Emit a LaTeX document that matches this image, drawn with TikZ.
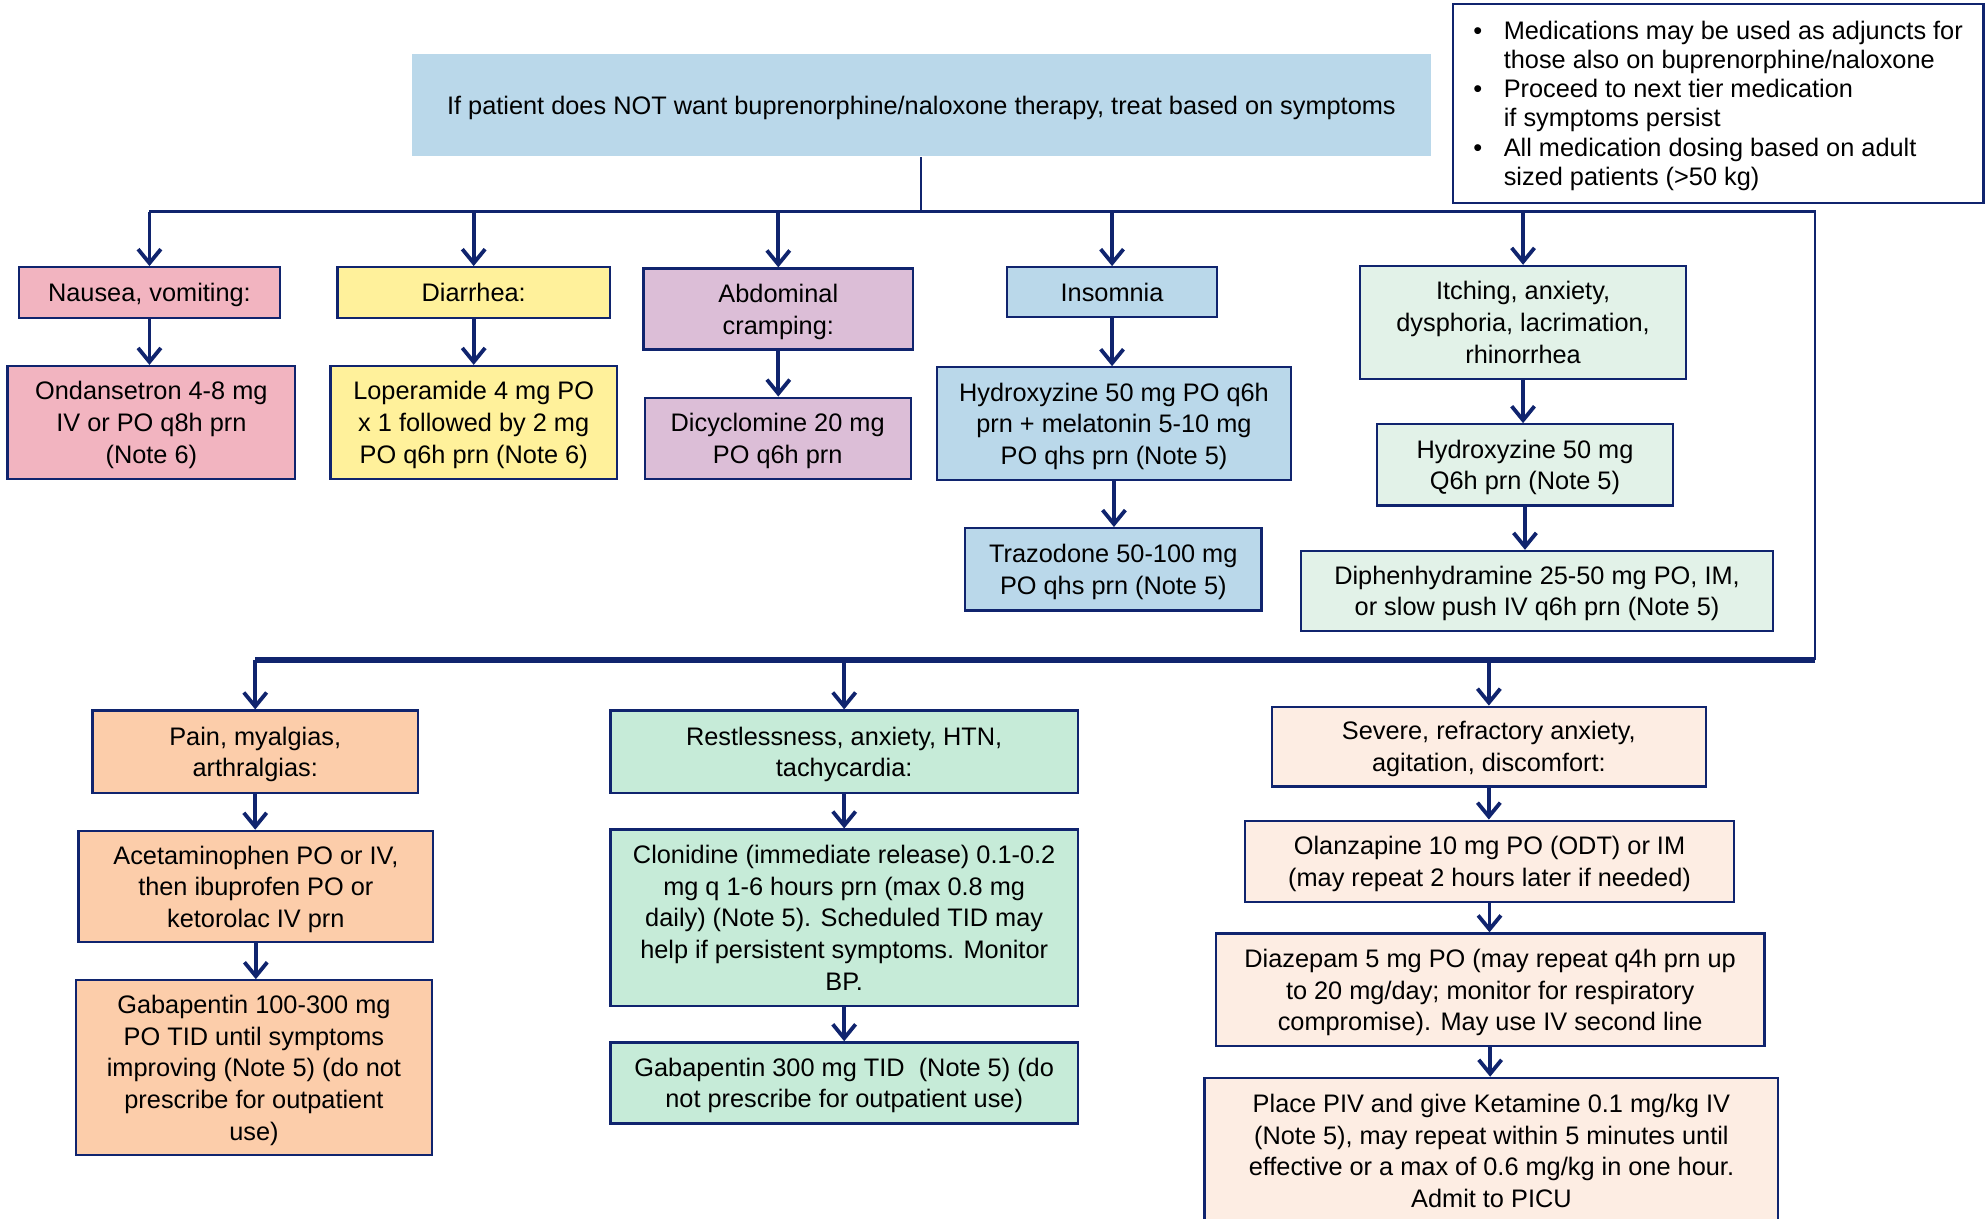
\documentclass[tikz,border=0pt]{standalone}
\usepackage{fontspec}
\setmainfont{Liberation Sans}
\usetikzlibrary{arrows.meta}
\definecolor{navy}{RGB}{16,36,110}
\definecolor{topblue}{RGB}{186,216,234}
\definecolor{pinkfill}{RGB}{242,180,192}
\definecolor{yellowfill}{RGB}{255,241,155}
\definecolor{purplefill}{RGB}{220,190,215}
\definecolor{bluefill}{RGB}{186,216,234}
\definecolor{mintfill}{RGB}{226,242,232}
\definecolor{orangefill}{RGB}{252,205,170}
\definecolor{greenfill}{RGB}{198,235,216}
\definecolor{peachfill}{RGB}{253,237,227}
\tikzset{
    >={Straight Barb[length=5.5pt,width=9pt]}, % open V heads
    box/.style={
            draw=navy,
            line width=0.9pt,
            align=center,
            inner sep=2pt, % padding inside the node
            text depth=0pt, % centre the lines on their height only
            font=\fontsize{10pt}{12.5pt}\selectfont
        },
    flow/.style={->, draw=navy, line width=1.5pt}, % arrows between boxes
    bus/.style={draw=navy, line width=1.1pt} % branching lines
}
\begin{document}
\begin{tikzpicture}[x=0.5pt, y=-0.5pt]
                \useasboundingbox (0,0) rectangle (1568,962);
                % nodes
                \node[box, draw=none, fill=topblue, minimum width=402.5pt, minimum height=40pt] (top) at (727.5,83) {If patient does NOT want buprenorphine/naloxone therapy, treat based on symptoms};
                \node[box, fill=white, align=left, minimum width=209.5pt, minimum height=78.5pt, font=\fontsize{10pt}{11.5pt}\selectfont] (notes) at (1356.5,81.5) {\makebox[12pt][l]{•}Medications may be used as adjuncts for\\\hspace*{12pt}those also on buprenorphine/naloxone\\\makebox[12pt][l]{•}Proceed to next tier medication\\\hspace*{12pt}if symptoms persist\\\makebox[12pt][l]{•}All medication dosing based on adult\\\hspace*{12pt}sized patients (>50 kg)};

                \node[box, fill=pinkfill, minimum width=103pt, minimum height=20pt] (nausea) at (118,231) {Nausea, vomiting:};
                \node[box, fill=pinkfill, minimum width=113.5pt, minimum height=44.5pt] (ondansetron) at (119.5,333.5) {Ondansetron 4-8 mg\\IV or PO q8h prn\\(Note 6)};
                \node[box, fill=yellowfill, minimum width=107.5pt, minimum height=20pt] (diarrhea) at (374,231) {Diarrhea:};
                \node[box, fill=yellowfill, minimum width=113pt, minimum height=44.5pt] (loperamide) at (374,333.5) {Loperamide 4 mg PO\\x 1 followed by 2 mg\\PO q6h prn (Note 6)};
                \node[box, fill=purplefill, minimum width=106.5pt, minimum height=32pt] (cramping) at (614.5,244) {Abdominal\\cramping:};
                \node[box, fill=purplefill, minimum width=105pt, minimum height=32pt] (dicyclomine) at (614,346) {Dicyclomine 20 mg\\PO q6h prn};
                \node[box, fill=bluefill, minimum width=83pt, minimum height=19.5pt] (insomnia) at (878,230.5) {Insomnia};
                \node[box, fill=bluefill, minimum width=139.5pt, minimum height=44.5pt] (hydroxyzineA) at (879.5,334.5) {Hydroxyzine 50 mg PO q6h\\prn + melatonin 5-10 mg\\PO qhs prn (Note 5)};
                \node[box, fill=bluefill, minimum width=117pt, minimum height=32.5pt] (trazodone) at (879,449.5) {Trazodone 50-100 mg\\PO qhs prn (Note 5)};
                \node[box, fill=mintfill, minimum width=128.5pt, minimum height=44.5pt] (itching) at (1202.5,254.5) {Itching, anxiety,\\dysphoria, lacrimation,\\rhinorrhea};
                \node[box, fill=mintfill, minimum width=117pt, minimum height=32pt] (hydroxyzineB) at (1204,367) {Hydroxyzine 50 mg\\Q6h prn (Note 5)};
                \node[box, fill=mintfill, minimum width=186.5pt, minimum height=31.5pt] (diphenhydramine) at (1213.5,466.5) {Diphenhydramine 25-50 mg PO, IM,\\or slow push IV q6h prn (Note 5)};

                \node[box, fill=orangefill, minimum width=128.5pt, minimum height=32.5pt] (pain) at (201.5,593.5) {Pain, myalgias,\\arthralgias:};
                \node[box, fill=orangefill, minimum width=140pt, minimum height=44pt] (acetaminophen) at (202,700) {Acetaminophen PO or IV,\\then ibuprofen PO or\\ketorolac IV prn};
                \node[box, fill=orangefill, minimum width=140.5pt, minimum height=69pt] (gabapentinA) at (200.5,843) {Gabapentin 100-300 mg\\PO TID until symptoms\\improving (Note 5) (do not\\prescribe for outpatient\\use)};
                \node[box, fill=greenfill, minimum width=184.5pt, minimum height=32.5pt] (restless) at (666.5,593.5) {Restlessness, anxiety, HTN,\\tachycardia:};
                \node[box, fill=greenfill, minimum width=184.5pt, minimum height=69.5pt] (clonidine) at (666.5,724.5) {Clonidine (immediate release) 0.1-0.2\\mg q 1-6 hours prn (max 0.8 mg\\daily) (Note 5). Scheduled TID may\\help if persistent symptoms. Monitor\\BP.};
                \node[box, fill=greenfill, minimum width=184.5pt, minimum height=32pt] (gabapentinB) at (666.5,855) {Gabapentin 300 mg TID~ (Note 5) (do\\not prescribe for outpatient use)};
                \node[box, fill=peachfill, minimum width=171.5pt, minimum height=31.5pt] (severe) at (1175.5,589.5) {Severe, refractory anxiety,\\agitation, discomfort:};
                \node[box, fill=peachfill, minimum width=193pt, minimum height=32pt] (olanzapine) at (1176,680) {Olanzapine 10 mg PO (ODT) or IM\\(may repeat 2 hours later if needed)};
                \node[box, fill=peachfill, minimum width=216.5pt, minimum height=44.5pt] (diazepam) at (1176.5,781.5) {Diazepam 5 mg PO (may repeat q4h prn up\\to 20 mg/day; monitor for respiratory\\compromise). May use IV second line};
                \node[box, fill=peachfill, minimum width=226.5pt, minimum height=57.5pt] (ketamine) at (1177.5,908.5) {Place PIV and give Ketamine 0.1 mg/kg IV\\(Note 5), may repeat within 5 minutes until\\effective or a max of 0.6 mg/kg in one hour.\\Admit to PICU};

                \coordinate (split) at (727,167);
                \coordinate (turn) at (1433,167);
                \coordinate (corner) at (1433,521);

                % edges
                \draw[bus, line width=0.8pt] (top.south) -- (top.south |- split);
                \draw[bus] (nausea.north |- split) -- (turn) -- (corner);
                \draw[bus, line width=2.2pt] (corner) -- (pain.north |- corner);

                \draw[flow] (nausea.north |- split) -- (nausea.north);
                \draw[flow] (diarrhea.north |- split) -- (diarrhea.north);
                \draw[flow] (cramping.north |- split) -- (cramping.north);
                \draw[flow] (insomnia.north |- split) -- (insomnia.north);
                \draw[flow] (itching.north |- split) -- (itching.north);

                \draw[flow] (nausea.south) -- (nausea.south |- ondansetron.north);
                \draw[flow] (diarrhea.south) -- (diarrhea.south |- loperamide.north);
                \draw[flow] (cramping.south) -- (cramping.south |- dicyclomine.north);
                \draw[flow] (insomnia.south) -- (insomnia.south |- hydroxyzineA.north);
                \draw[flow] (hydroxyzineA.south) -- (hydroxyzineA.south |- trazodone.north);
                \draw[flow] (itching.south) -- (itching.south |- hydroxyzineB.north);
                \draw[flow] (hydroxyzineB.south) -- (hydroxyzineB.south |- diphenhydramine.north);

                \draw[flow] (pain.north |- corner) -- (pain.north);
                \draw[flow] (restless.north |- corner) -- (restless.north);
                \draw[flow] (severe.north |- corner) -- (severe.north);

                \draw[flow] (pain.south) -- (pain.south |- acetaminophen.north);
                \draw[flow] (acetaminophen.south) -- (acetaminophen.south |- gabapentinA.north);
                \draw[flow] (restless.south) -- (restless.south |- clonidine.north);
                \draw[flow] (clonidine.south) -- (clonidine.south |- gabapentinB.north);
                \draw[flow] (severe.south) -- (severe.south |- olanzapine.north);
                \draw[flow] (olanzapine.south) -- (olanzapine.south |- diazepam.north);
                \draw[flow] (diazepam.south) -- (diazepam.south |- ketamine.north);

        \end{tikzpicture}
\end{document}
